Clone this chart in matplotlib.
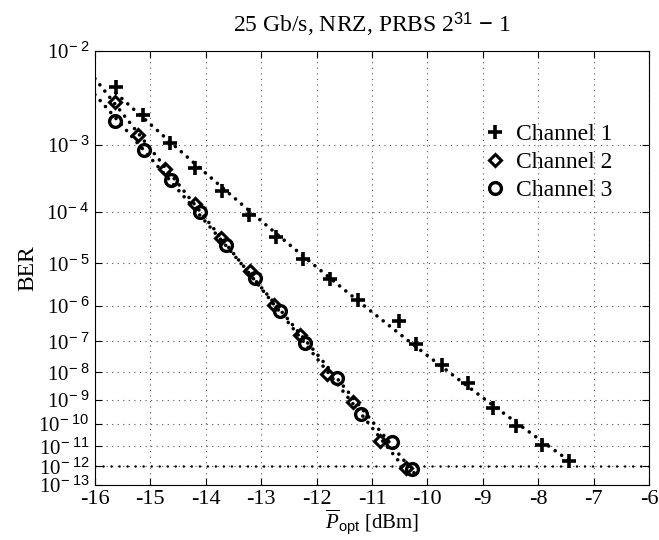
import numpy as np
import matplotlib
matplotlib.use("Agg")
import matplotlib.pyplot as plt

plt.rcParams['font.family'] = ['Liberation Serif', 'DejaVu Serif']
plt.rcParams['mathtext.fontset'] = 'custom'
plt.rcParams['mathtext.rm'] = 'Liberation Serif'
plt.rcParams['mathtext.it'] = 'Liberation Serif:italic'
plt.rcParams['mathtext.sf'] = 'Liberation Sans'

# measured data, received power [dBm] and BER
p_ch1 = [-15.62, -15.13, -14.65, -14.19, -13.71, -13.22, -12.73, -12.25, -11.76,
         -11.25, -10.51, -10.21, -9.74, -9.27, -8.82, -8.40, -7.93, -7.44]
ber_ch1 = [4.6e-3, 2.3e-3, 1.08e-3, 4.9e-4, 2.2e-4, 8.9e-5, 3.5e-5, 1.26e-5, 4.6e-6,
           1.38e-6, 3.9e-7, 8.3e-8, 1.8e-8, 4.4e-9, 4.9e-10, 8e-11, 1.2e-11, 1.9e-12]

p_ch2 = [-15.63, -15.22, -14.74, -14.19, -13.73, -13.21, -12.77, -12.30, -11.82,
         -11.34, -10.86, -10.39]
ber_ch2 = [3.2e-3, 1.34e-3, 4.7e-4, 1.35e-4, 3.3e-5, 6.8e-6, 1.05e-6, 1.6e-7, 8.5e-9,
           8.5e-10, 1.7e-11, 8.5e-13]

p_ch3 = [-15.63, -15.11, -14.63, -14.10, -13.64, -13.11, -12.66, -12.21, -11.63,
         -11.19, -10.64, -10.28]
ber_ch3 = [2.0e-3, 8.6e-4, 3.2e-4, 9.9e-5, 2.4e-5, 4.8e-6, 7.3e-7, 9.0e-8, 6.6e-9,
           2.8e-10, 1.5e-11, 7.6e-13]

ber_ticks = [1e-2, 1e-3, 1e-4, 1e-5, 1e-6, 1e-7, 1e-8, 1e-9, 1e-10, 1e-11, 1e-12, 1e-13]
x_ticks = [-16, -15, -14, -13, -12, -11, -10, -9, -8, -7, -6]


#BER axis: linear in log(-log(BER))
def fwd(x):
    x = np.asarray(x, dtype=float)
    with np.errstate(all='ignore'):
        return -np.log10(-np.log10(x))


def inv(y):
    y = np.asarray(y, dtype=float)
    with np.errstate(all='ignore'):
        return 10 ** (-10 ** (-y))


def fit_curve(p, ber, p_start, p_end):
    #2nd order fit in the axis coordinate
    coef = np.polyfit(p, fwd(ber), 2)
    pp = np.linspace(p_start, p_end, 200)
    return pp, inv(np.polyval(coef, pp))


fig = plt.figure(figsize=(6.59, 5.40), dpi=100)
ax = fig.add_axes([0.144, 0.102, 0.841, 0.8033])
ax.set_yscale('function', functions=(fwd, inv))

dots = (0, (0.01, 2.2))
for p, b, start in [(p_ch1, ber_ch1, p_ch1[0]), (p_ch2, ber_ch2, -16), (p_ch3, ber_ch3, -16)]:
    xx, yy = fit_curve(p, b, start, p[-1] + 0.05)
    ax.plot(xx, yy, color='black', lw=2.6, linestyle=dots, dash_capstyle='round')

ax.plot(p_ch1, ber_ch1, linestyle='none', marker='+', ms=9.5, mew=2.6, color='black', label='Channel 1')
ax.plot(p_ch2, ber_ch2, linestyle='none', marker='D', ms=6.5, mew=2.2, mfc='none', color='black', label='Channel 2')
ax.plot(p_ch3, ber_ch3, linestyle='none', marker='o', ms=8.5, mew=2.4, mfc='none', color='black', label='Channel 3')

ax.axhline(1e-12, color='black', lw=1.8, linestyle=(0, (0.01, 3.2)), dash_capstyle='round')

ax.set_xlim(-16, -6)
ax.set_ylim(1e-13, 1e-2)
ax.set_xticks(x_ticks)
ax.set_xticklabels([str(t) for t in x_ticks])
ax.set_yticks(ber_ticks)
ax.set_yticklabels([r'10$^{\mathsf{-\ %d}}$' % round(-np.log10(t)) for t in ber_ticks])
ax.yaxis.set_minor_locator(matplotlib.ticker.NullLocator())
ax.tick_params(direction='in', top=True, right=True, labelsize=16, length=5)
ax.tick_params(axis='x', pad=4)
ax.tick_params(axis='y', pad=4, labelsize=15)
ax.grid(True, color='#555555', linestyle=(0, (1, 4)), lw=0.8)

ax.set_xlabel(r'$\overline{P}_{\mathsf{opt}}$ [dBm]', fontsize=15, labelpad=-1)
ax.set_ylabel('BER', fontsize=17, labelpad=0)
ax.set_title(r'25 Gb/s, NRZ, PRBS 2$^{\mathsf{31}}$ $\mathsf{-}$ 1', fontsize=17, pad=14)

ax.legend(loc='upper left', bbox_to_anchor=(0.675, 0.86), frameon=False, fontsize=17,
          handletextpad=0.3, labelspacing=0.28, borderpad=0, handlelength=1.2)

plt.savefig('out.png', dpi=100)
